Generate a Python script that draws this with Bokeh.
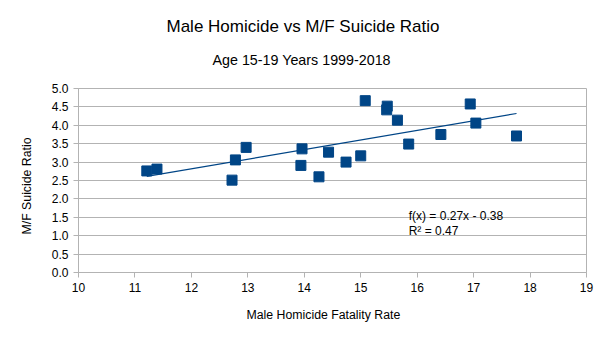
import numpy as np
from bokeh.plotting import figure
from bokeh.models import Title, Label, FixedTicker, Range1d, NumeralTickFormatter
from bokeh.embed import file_html
from bokeh.resources import INLINE

# Data (Male homicide fatality rate vs M/F suicide ratio, age 15-19, 1999-2018)
homicide_rate = [11.21, 11.39, 12.72, 12.78, 12.97, 13.96, 13.94, 14.26, 14.43, 14.74,
                 15.00, 15.08, 15.47, 15.46, 15.65, 15.85, 16.42, 16.94, 17.04, 17.76]
suicide_ratio = [2.76, 2.81, 2.51, 3.06, 3.40, 3.36, 2.91, 2.60, 3.27, 3.00,
                 3.17, 4.67, 4.52, 4.42, 4.14, 3.49, 3.75, 4.58, 4.06, 3.71]
x_ticks = [10, 11, 12, 13, 14, 15, 16, 17, 18, 19]
y_ticks = [0.0, 0.5, 1.0, 1.5, 2.0, 2.5, 3.0, 3.5, 4.0, 4.5, 5.0]
eq_text = "f(x) = 0.27x - 0.38"
r2_text = "R² = 0.47"
x_label = "Male Homicide Fatality Rate"
y_label = "M/F Suicide Ratio"

FONT = "Liberation Sans"
BLUE = "#004586"
GRID = "#b3b3b3"

p = figure(width=605, height=340, output_backend="svg", toolbar_location=None,
           x_range=Range1d(10, 19), y_range=Range1d(0, 5),
           min_border_left=78, min_border_right=19, min_border_top=88, min_border_bottom=68)
p.background_fill_color = "white"
p.border_fill_color = "white"
p.outline_line_color = GRID

# titles (first added sits nearest the plot); a tiny spacer first
# left-aligned with offsets so they are centred on the whole chart width
p.add_layout(Title(text=" ", text_font_size="1px", standoff=8), "above")
p.add_layout(Title(text="Age 15-19 Years 1999-2018", align="left", text_font=FONT,
                   text_font_size="14.3px", text_font_style="normal", text_color="black",
                   standoff=20, offset=134), "above")
p.add_layout(Title(text="Male Homicide vs M/F Suicide Ratio", align="left", text_font=FONT,
                   text_font_size="17px", text_font_style="normal", text_color="black",
                   standoff=8, offset=88), "above")

# axes
for ax in (p.xaxis, p.yaxis):
    ax.axis_line_color = GRID
    ax.major_tick_line_color = GRID
    ax.major_tick_out = 5
    ax.major_tick_in = 0
    ax.minor_tick_line_color = None
    ax.major_label_text_font = FONT
    ax.major_label_text_font_size = "12px"
    ax.major_label_text_color = "black"

p.xaxis.ticker = FixedTicker(ticks=x_ticks)
p.yaxis.ticker = FixedTicker(ticks=y_ticks)
p.yaxis.formatter = NumeralTickFormatter(format="0.0")
p.xaxis.major_label_standoff = 5
p.yaxis.major_label_standoff = 5

p.xgrid.grid_line_color = None
p.ygrid.grid_line_color = GRID
p.ygrid.ticker = FixedTicker(ticks=y_ticks)

# axis titles as side panels (spacer first, then the text)
p.add_layout(Title(text=" ", text_font_size="1px", standoff=8), "below")
p.add_layout(Title(text=x_label, align="left", offset=168, text_font=FONT,
                   text_font_size="12.3px", text_font_style="normal", text_color="black",
                   standoff=0), "below")
p.add_layout(Title(text=" ", text_font_size="1px", standoff=12), "left")
p.add_layout(Title(text=y_label, align="left", offset=38, text_font=FONT,
                   text_font_size="12.3px", text_font_style="normal", text_color="black",
                   standoff=0), "left")

# trend line from linear fit
slope, intercept = np.polyfit(homicide_rate, suicide_ratio, 1)
xs = [min(homicide_rate), max(homicide_rate)]
p.line(xs, [slope * v + intercept for v in xs], line_color=BLUE, line_width=1.2)

# points
p.scatter(homicide_rate, suicide_ratio, marker="square", size=10,
          fill_color=BLUE, line_color=BLUE)

for txt, yy in ((eq_text, 1.53), (r2_text, 1.12)):
    p.add_layout(Label(x=15.85, y=yy, text=txt, text_font=FONT, text_font_size="12px",
                       text_color="black", text_baseline="middle", text_align="left"))

open("out.html", "w").write(file_html(p, INLINE))
